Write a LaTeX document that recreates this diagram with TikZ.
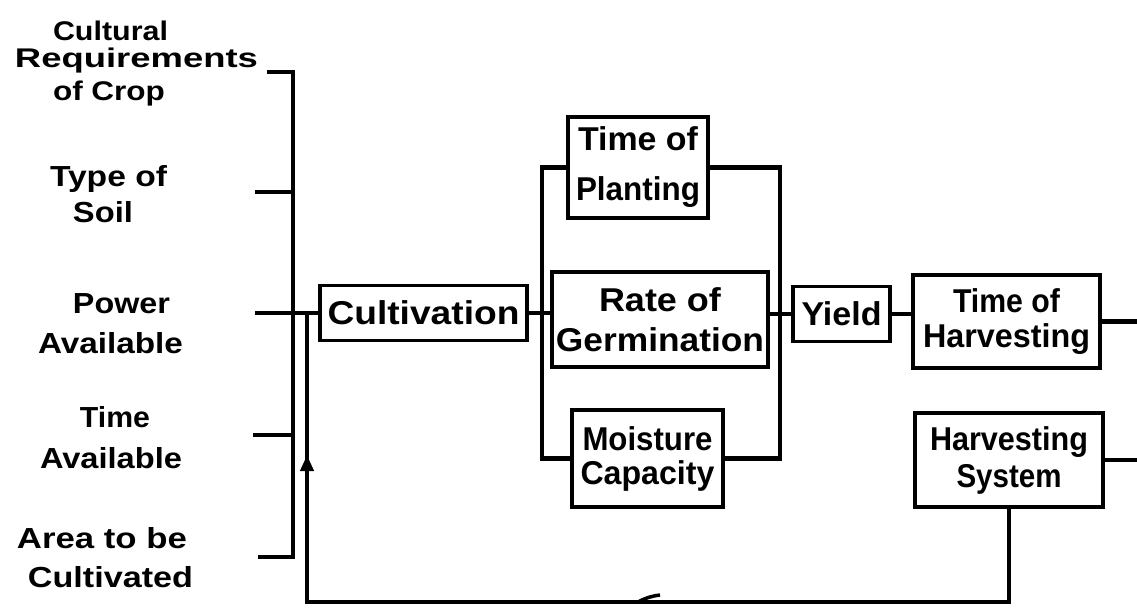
\documentclass[tikz,border=0pt]{standalone}
\usepackage{fontspec}
\usepackage{graphicx}
\setmainfont{Liberation Sans}
\usetikzlibrary{arrows.meta}
\newcommand\fw[2]{\resizebox{#1pt}{\height}{#2}}
\tikzset{
  lbl/.style={font=\fontsize{29}{34}\selectfont\bfseries, inner sep=0pt, anchor=base},
  crp/.style={font=\fontsize{27}{30}\selectfont\bfseries, inner sep=0pt, anchor=base},
  box/.style={draw, line width=3.5pt, inner sep=0pt, align=center},
  bf/.style={font=\fontsize{33}{#1}\selectfont\bfseries},
  conn/.style={line width=4.5pt},
}
\begin{document}
\begin{tikzpicture}[x=1pt,y=-1pt]
\useasboundingbox (0,0) rectangle (1137,608);
% left labels
\node[crp] (c1) at (110.5,40) {\fw{115}{Cultural}};
\node[crp] (c2) at (136.5,67) {\fw{243}{Requirements}};
\node[crp] (c3) at (109,100) {\fw{112}{of Crop}};
\node[lbl] (s1) at (108.5,186) {\fw{117}{Type of}};
\node[lbl] (s2) at (103,222) {\fw{60}{Soil}};
\node[lbl] (p1) at (121.5,313) {\fw{97}{Power}};
\node[lbl] (p2) at (110.5,353) {\fw{145}{Available}};
\node[lbl] (ti1) at (115,427) {\fw{70}{Time}};
\node[lbl] (ti2) at (111,468) {\fw{142}{Available}};
\node[lbl] (a1) at (102,548) {\fw{170}{Area to be}};
\node[lbl] (a2) at (110.5,587) {\fw{165}{Cultivated}};
% boxes
\node[box, bf=40, minimum width=207pt, minimum height=55pt] (cult) at (423.5,313) {\fw{192}{Cultivation}};
\node[box, bf=50, minimum width=140pt, minimum height=101pt] (tp) at (638,167.5) {\fw{120}{Time of}\\\fw{124}{Planting}};
\node[box, bf=40, minimum width=216pt, minimum height=95pt] (rate) at (660,319.5) {\fw{122}{Rate of}\\\fw{208}{Germination}};
\node[box, bf=34, minimum width=151pt, minimum height=97pt] (mc) at (647.5,458.5) {\fw{130}{Moisture}\\\fw{134}{Capacity}};
\node[box, bf=40, minimum width=97pt, minimum height=55pt] (yield) at (841.5,314) {\fw{80}{Yield}};
\node[box, bf=35, minimum width=187pt, minimum height=93pt] (th) at (1006.5,321.5) {\fw{107}{Time of}\\\fw{167}{Harvesting}};
\node[box, bf=37, minimum width=188pt, minimum height=94pt] (hs) at (1009,460) {\fw{158}{Harvesting}\\\fw{105}{System}};
% coordinates
\coordinate (bt) at (293,72);
\coordinate (bb) at (293,557);
\coordinate (t0) at (267,72);
\coordinate (t1) at (255,192);
\coordinate (t3) at (253,435);
\coordinate (t4) at (258,557);
\coordinate (t2) at (cult.west -| t1);
\coordinate (pxl) at (542,0);
\coordinate (pxr) at (780,0);
\coordinate (o1) at (1137,0);
\coordinate (fbx) at (307,602);
\coordinate (arr) at (307,455);
\coordinate (fbm) at (638,602);
% bracket
\draw[conn] (t0) -- (bt) -- (bb) -- (t4);
\draw[conn] (t1) -- (t1 -| bt);
\draw[conn] (t3) -- (t3 -| bt);
\draw[conn] (t2) -- (cult.west);
% parallel block
\draw[conn] (cult.east) -- (cult.east -| rate.west);
\draw[conn] (tp.west) -| (pxl |- mc.west) -- (mc.west);
\draw[conn] (tp.east) -| (pxr |- mc.east) -- (mc.east);
\draw[conn] (rate.east |- yield.west) -- (yield.west);
\draw[conn] (yield.east) -- (yield.east -| th.west);
\draw[conn] (th.east) -- (th.east -| o1);
\draw[conn] (hs.east) -- (hs.east -| o1);
% feedback
\draw[conn] (hs.south) |- (fbx) -- (fbx |- cult.west);
\draw[conn, -{Triangle[length=16pt,width=13pt]}] (fbx) -- (arr);
\draw[line width=3.5pt] (fbm) to[bend left=10] ++(22,-7);
\end{tikzpicture}
\end{document}
